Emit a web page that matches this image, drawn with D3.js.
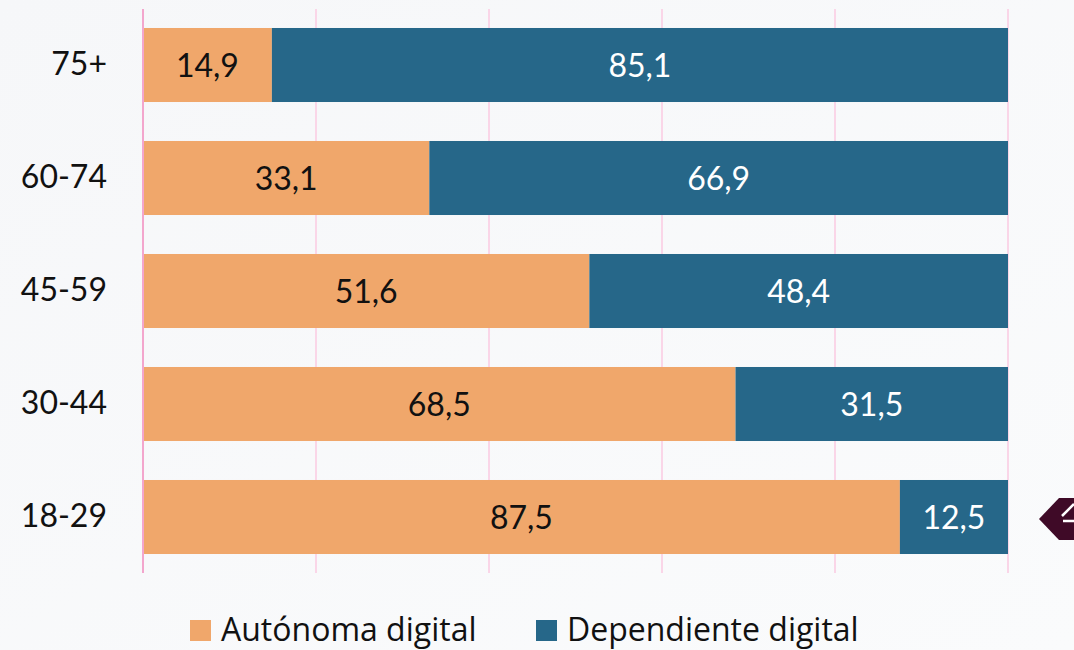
<!DOCTYPE html>
<html>
<head>
<meta charset="utf-8">
<script src="https://cdn.jsdelivr.net/npm/d3@7"></script>
<style>
  html, body { margin: 0; padding: 0; }
  body { width: 1074px; height: 650px; overflow: hidden; }
</style>
</head>
<body>
<script>
const ageGroups = ["75+", "60-74", "45-59", "30-44", "18-29"];
const autonoma = [14.9, 33.1, 51.6, 68.5, 87.5];
const dependiente = [85.1, 66.9, 48.4, 31.5, 12.5];
const seriesNames = ["Autónoma digital", "Dependiente digital"];
const seriesColors = ["#f0a76b", "#266789"];
const xTicks = [0, 20, 40, 60, 80, 100];

const W = 1074, H = 650;
const font = "Lato, 'Open Sans', sans-serif";

const svg = d3.select("body").append("svg")
  .attr("width", W)
  .attr("height", H);

// soft background
const defs = svg.append("defs");
const grad = defs.append("linearGradient")
  .attr("id", "bg").attr("x1", 0).attr("y1", 0).attr("x2", 1).attr("y2", 1);
grad.append("stop").attr("offset", "0%").attr("stop-color", "#f6f7f9");
grad.append("stop").attr("offset", "100%").attr("stop-color", "#fafbfc");
svg.append("rect").attr("width", W).attr("height", H).attr("fill", "url(#bg)");

const x = d3.scaleLinear().domain([0, 100]).range([143, 1008]);
const y = d3.scaleBand()
  .domain(ageGroups)
  .range([8.5, 573.5])
  .paddingInner(0.345)
  .paddingOuter(0.1725);

// grid lines
svg.append("g")
  .selectAll("line")
  .data(xTicks)
  .join("line")
    .attr("x1", d => x(d)).attr("x2", d => x(d))
    .attr("y1", 9).attr("y2", 573)
    .attr("stroke", d => d === 0 ? "#f3a6cd" : "#fad6e8")
    .attr("stroke-width", 2);

const rows = ageGroups.map((g, i) => ({ group: g, a: autonoma[i], d: dependiente[i] }));

const row = svg.append("g").selectAll("g")
  .data(rows)
  .join("g");

row.append("rect")
  .attr("x", x(0) + 1)
  .attr("y", d => y(d.group))
  .attr("width", d => x(d.a) - x(0) - 1)
  .attr("height", y.bandwidth())
  .attr("fill", seriesColors[0]);

row.append("rect")
  .attr("x", d => x(d.a))
  .attr("y", d => y(d.group))
  .attr("width", d => x(d.a + d.d) - x(d.a))
  .attr("height", y.bandwidth())
  .attr("fill", seriesColors[1]);

const fmt = v => d3.format(".1f")(v).replace(".", ",");

row.append("text")
  .attr("x", d => (x(0) + x(d.a)) / 2)
  .attr("y", d => y(d.group) + y.bandwidth() / 2)
  .attr("dy", "0.36em")
  .attr("text-anchor", "middle")
  .style("font-family", font)
  .style("font-size", "32px")
  .attr("fill", "#111")
  .text(d => fmt(d.a));

row.append("text")
  .attr("x", d => (x(d.a) + x(d.a + d.d)) / 2)
  .attr("y", d => y(d.group) + y.bandwidth() / 2)
  .attr("dy", "0.36em")
  .attr("text-anchor", "middle")
  .style("font-family", font)
  .style("font-size", "32px")
  .attr("fill", "#fff")
  .text(d => fmt(d.d));

// category labels
const yAxis = svg.append("g")
  .attr("transform", `translate(${x(0)},0)`)
  .call(d3.axisLeft(y).tickSize(0).tickPadding(36));
yAxis.select(".domain").remove();
yAxis.selectAll("text")
  .style("font-family", font)
  .style("font-size", "32px")
  .attr("fill", "#111");

// legend
const legendX = [190, 536];
const legend = svg.append("g").selectAll("g")
  .data(seriesNames)
  .join("g")
    .attr("transform", (d, i) => `translate(${legendX[i]},620)`);
legend.append("rect")
  .attr("width", 21).attr("height", 21)
  .attr("fill", (d, i) => seriesColors[i]);
legend.append("text")
  .attr("x", 31)
  .attr("y", 21)
  .style("font-family", "'Open Sans', sans-serif")
  .style("font-size", "32px")
  .attr("fill", "#111")
  .text(d => d);

// pointer arrow at the right edge
const ay = y("18-29") + y.bandwidth() / 2 + 2;
svg.append("path")
  .attr("d", `M1039,${ay} L1059,${ay - 21} L1074,${ay - 21} L1074,${ay + 21} L1059,${ay + 21} Z`)
  .attr("fill", "#3f0a27");
svg.append("path")
  .attr("d", `M1074,${ay - 15} L1062,${ay - 3} M1063,${ay + 2} L1074,${ay + 2}`)
  .attr("stroke", "#ffffff")
  .attr("stroke-width", 2.5)
  .attr("fill", "none");
</script>
</body>
</html>
